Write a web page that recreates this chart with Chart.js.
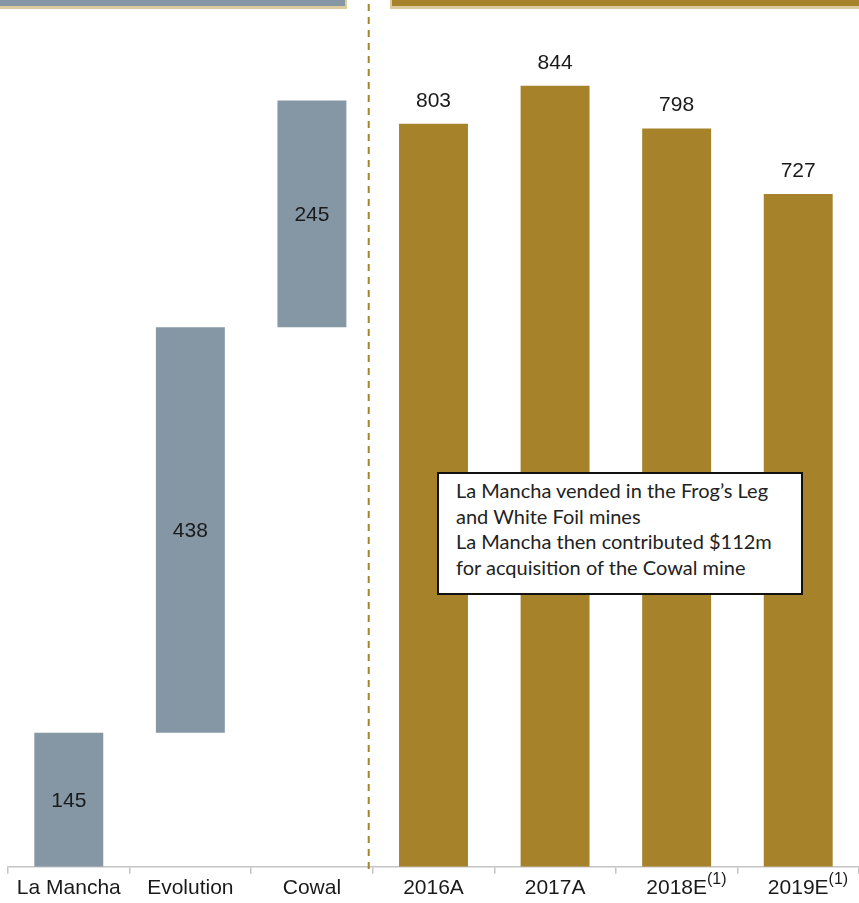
<!DOCTYPE html>
<html>
<head>
<meta charset="utf-8">
<script src="https://cdn.jsdelivr.net/npm/chart.js@4"></script>
<style>
  html, body { margin: 0; padding: 0; background: #fff; }
  #wrap { position: relative; width: 859px; height: 903px; overflow: hidden; }
  .hdr { position: absolute; top: -30px; height: 36px; box-shadow: 2px 3px 0 #dccb9e; }
  #hdrLeft { left: -5px; width: 350px; background: #8597a5; }
  #hdrRight { left: 392px; width: 480px; background: #a6832a; box-shadow: -2px 3px 0 #dccb9e; }
  .note {
    position: absolute; left: 437px; top: 472px; width: 345px; height: 115px;
    border: 2px solid #111; background: #fff; padding: 4px 0 0 17px;
    font-family: Lato, "Open Sans", sans-serif; font-size: 20px; line-height: 25.5px; color: #222;
  }
  canvas { position: absolute; left: 0; top: 0; }
</style>
</head>
<body>
<div id="wrap">
  <canvas id="chart" width="859" height="903"></canvas>
  <div class="hdr" id="hdrLeft"></div>
  <div class="hdr" id="hdrRight"></div>
  <div class="note">La Mancha vended in the Frog’s Leg<br>and White Foil mines<br>La Mancha then contributed $112m<br>for acquisition of the Cowal mine</div>
</div>
<script>
// Waterfall part (contributions) and production part
const bridgeLabels = ['La Mancha', 'Evolution', 'Cowal'];
const bridgeValues = [145, 438, 245];
const yearLabels = ['2016A', '2017A', '2018E', '2019E'];
const yearValues = [803, 844, 798, 727];
const yearNotes = ['', '', '(1)', '(1)'];

const greyColor = '#8597a5';
const goldColor = '#a6832a';
const labelFont = '21px "Liberation Sans", Arial, sans-serif';
const noteFont = '16px "Liberation Sans", Arial, sans-serif';

// build floating bars for the waterfall
let running = 0;
const bridgeBars = bridgeValues.map(v => {
  const bar = [running, running + v];
  running += v;
  return bar;
});
const labels = bridgeLabels.concat(yearLabels);
const barData = bridgeBars.concat(yearValues.map(v => [0, v]));
const valueText = bridgeValues.concat(yearValues);
const colors = bridgeLabels.map(() => greyColor).concat(yearLabels.map(() => goldColor));

// value labels, superscripts and the dashed divider
const extrasPlugin = {
  id: 'extras',
  afterDatasetsDraw(chart) {
    const ctx = chart.ctx;
    const meta = chart.getDatasetMeta(0);
    const x = chart.scales.x;
    ctx.save();
    ctx.font = labelFont;
    ctx.fillStyle = '#1a1a1a';
    ctx.textAlign = 'center';
    ctx.textBaseline = 'middle';
    meta.data.forEach((bar, i) => {
      if (i < bridgeValues.length) {
        ctx.fillText(valueText[i], bar.x, (bar.y + bar.base) / 2 + 1);
      } else {
        ctx.fillText(valueText[i], bar.x, bar.y - 23);
      }
    });

    // superscripts on the x labels
    ctx.textAlign = 'left';
    ctx.textBaseline = 'alphabetic';
    yearNotes.forEach((note, j) => {
      if (!note) return;
      const idx = bridgeLabels.length + j;
      const px = x.getPixelForTick(idx);
      ctx.font = labelFont;
      const w = ctx.measureText(yearLabels[j]).width;
      ctx.font = noteFont;
      ctx.fillText(note, px + w / 2, 884);
    });

    // dashed divider between bridge and production
    const divX = (x.getPixelForTick(bridgeLabels.length - 1) + x.getPixelForTick(bridgeLabels.length)) / 2 - 4;
    ctx.strokeStyle = goldColor;
    ctx.lineWidth = 2;
    ctx.setLineDash([7, 6]);
    ctx.beginPath();
    ctx.moveTo(divX, 4);
    ctx.lineTo(divX, 872);
    ctx.stroke();
    ctx.restore();
  }
};

new Chart(document.getElementById('chart'), {
  type: 'bar',
  data: {
    labels: labels,
    datasets: [{
      data: barData,
      backgroundColor: colors,
      borderWidth: 0,
      categoryPercentage: 1,
      barPercentage: 0.567
    }]
  },
  options: {
    responsive: false,
    animation: false,
    layout: { padding: { left: 8, right: 0, top: 34, bottom: 0 } },
    plugins: { legend: { display: false }, tooltip: { enabled: false } },
    scales: {
      y: { display: false, min: 0, max: 900 },
      x: {
        offset: true,
        border: { display: true, color: '#c4c4c4', width: 1.5 },
        grid: { offset: true, drawOnChartArea: false, drawTicks: true, tickLength: 7, color: '#c4c4c4', lineWidth: 1.5 },
        ticks: {
          color: '#1a1a1a',
          padding: 2,
          maxRotation: 0,
          autoSkip: false,
          font: { family: '"Liberation Sans", Arial, sans-serif', size: 21 }
        }
      }
    }
  },
  plugins: [extrasPlugin]
});
</script>
</body>
</html>
